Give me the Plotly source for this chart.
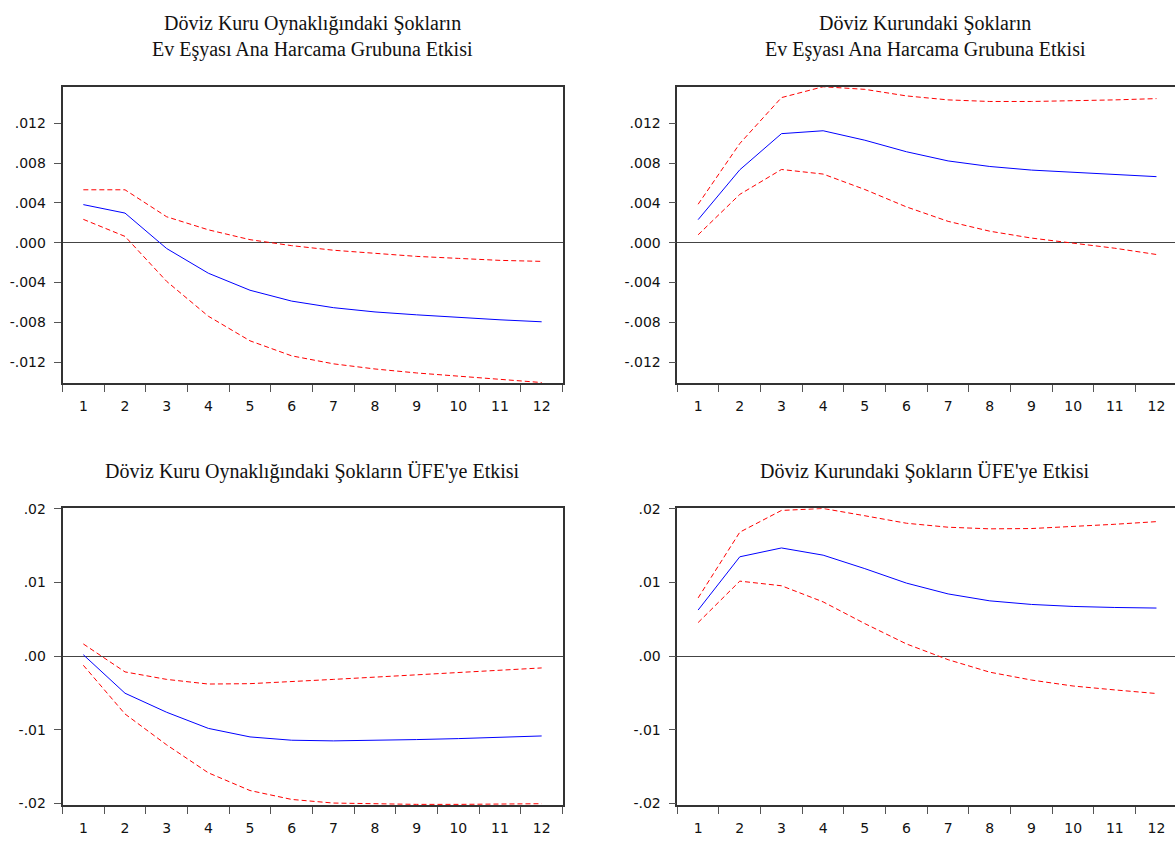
import plotly.graph_objects as go

W, H = 1175, 845

periods = list(range(1, 13))

# Top-left: exchange-rate volatility shock -> household goods
tl_resp = [0.00382, 0.00297, -0.00059, -0.00307, -0.00478, -0.00587, -0.00653, -0.00696, -0.00725, -0.00752, -0.00775, -0.00795]
tl_up = [0.00531, 0.00531, 0.00260, 0.00129, 0.00030, -0.00030, -0.00076, -0.00109, -0.00138, -0.00158, -0.00178, -0.00188]
tl_lo = [0.00234, 0.00063, -0.00389, -0.00739, -0.00986, -0.01137, -0.01217, -0.01269, -0.01309, -0.01342, -0.01372, -0.01405]

# Top-right: exchange-rate shock -> household goods
tr_resp = [0.00231, 0.00732, 0.01095, 0.01124, 0.01029, 0.00913, 0.00821, 0.00765, 0.00729, 0.00706, 0.00686, 0.00663]
tr_up = [0.00386, 0.00996, 0.01457, 0.01566, 0.01540, 0.01474, 0.01434, 0.01418, 0.01418, 0.01424, 0.01434, 0.01447]
tr_lo = [0.00079, 0.00485, 0.00735, 0.00689, 0.00534, 0.00359, 0.00214, 0.00115, 0.00046, -0.00003, -0.00056, -0.00119]

# Bottom-left: exchange-rate volatility shock -> PPI
bl_resp = [0.00018, -0.00505, -0.00764, -0.00983, -0.01099, -0.01144, -0.01153, -0.01149, -0.01135, -0.01122, -0.01104, -0.01086]
bl_up = [0.00165, -0.00215, -0.00317, -0.00380, -0.00375, -0.00349, -0.00317, -0.00286, -0.00255, -0.00223, -0.00192, -0.00161]
bl_lo = [-0.00125, -0.00787, -0.01207, -0.01587, -0.01828, -0.01949, -0.01998, -0.02011, -0.02016, -0.02016, -0.02011, -0.02007]

# Bottom-right: exchange-rate shock -> PPI
br_resp = [0.00626, 0.01350, 0.01470, 0.01372, 0.01189, 0.00992, 0.00845, 0.00751, 0.00702, 0.00675, 0.00661, 0.00653]
br_up = [0.00791, 0.01685, 0.01980, 0.02007, 0.01908, 0.01806, 0.01752, 0.01730, 0.01734, 0.01761, 0.01792, 0.01828]
br_lo = [0.00456, 0.01019, 0.00956, 0.00737, 0.00442, 0.00165, -0.00049, -0.00219, -0.00326, -0.00407, -0.00460, -0.00509]

titles = {
    "tl": ["Döviz Kuru Oynaklığındaki Şokların", "Ev Eşyası Ana Harcama Grubuna Etkisi"],
    "tr": ["Döviz Kurundaki Şokların", "Ev Eşyası Ana Harcama Grubuna Etkisi"],
    "bl": ["Döviz Kuru Oynaklığındaki Şokların ÜFE'ye Etkisi"],
    "br": ["Döviz Kurundaki Şokların ÜFE'ye Etkisi"],
}

top_tickvals = [-0.012, -0.008, -0.004, 0.0, 0.004, 0.008, 0.012]
top_ticktext = ["-.012", "-.008", "-.004", ".000", ".004", ".008", ".012"]
bot_tickvals = [-0.02, -0.01, 0.0, 0.01, 0.02]
bot_ticktext = ["-.02", "-.01", ".00", ".01", ".02"]
top_range = [-0.01411, 0.01566]
bot_range = [-0.02025, 0.02011]


def px_x(a, b):
    return [a / W, min(b / W, 1.0)]


def px_y(top, bottom):
    return [1 - bottom / H, 1 - top / H]


panels = [
    ("tl", tl_resp, tl_up, tl_lo, (62.5, 562.5), (81, 382), top_tickvals, top_ticktext, top_range, True),
    ("tr", tr_resp, tr_up, tr_lo, (677.3, 1177.3), (81, 382), top_tickvals, top_ticktext, top_range, False),
    ("bl", bl_resp, bl_up, bl_lo, (62.5, 562.5), (509, 810.5), bot_tickvals, bot_ticktext, bot_range, True),
    ("br", br_resp, br_up, br_lo, (677.3, 1177.3), (509, 810.5), bot_tickvals, bot_ticktext, bot_range, False),
]

fig = go.Figure()
AX = "#333333"
TICKC = "#555555"
tickfont = dict(family="DejaVu Sans, Arial, sans-serif", size=14, color="#111111")
titlefont = dict(family="Liberation Serif, Times New Roman, serif", size=20, color="#111111")

annotations = []
for i, (key, resp, up, lo, xd, yd, yv, yt, yr, mirror) in enumerate(panels):
    n = "" if i == 0 else str(i + 1)
    xa, ya = "x" + n, "y" + n
    for series, color, dash in ((up, "#ff0000", "5px,3px"), (lo, "#ff0000", "5px,3px"), (resp, "#0000ff", "solid")):
        fig.add_trace(go.Scatter(x=periods, y=series, mode="lines", xaxis=xa, yaxis=ya,
                                 line=dict(color=color, width=1, dash=dash), showlegend=False,
                                 hoverinfo="skip"))
    x0, x1 = xd
    xr_hi = 0.5 + (min(x1, W) - x0) / (x1 - x0) * 12
    fig.layout["xaxis" + n] = dict(
        domain=px_x(x0, x1), anchor=ya, range=[0.5, xr_hi],
        tickmode="array", tickvals=periods, ticktext=[str(p) for p in periods],
        ticks="", showgrid=False, zeroline=False, showline=True, linecolor=AX, linewidth=1.5,
        mirror=True, tickfont=tickfont, ticklabelstandoff=9,
        minor=dict(tickmode="array", tickvals=[p - 0.5 for p in periods] + [12.5], ticks="outside",
                   ticklen=7, tickcolor=TICKC, tickwidth=1, showgrid=False),
        fixedrange=True,
    )
    fig.layout["yaxis" + n] = dict(
        domain=px_y(*yd), anchor=xa, range=yr,
        tickmode="array", tickvals=yv, ticktext=yt,
        ticks="outside", ticklen=7, tickcolor=TICKC, tickwidth=1,
        showgrid=False, zeroline=True, zerolinecolor="#444444", zerolinewidth=1,
        showline=True, linecolor=AX, linewidth=1.5, mirror=mirror,
        tickfont=tickfont, ticklabelstandoff=5, fixedrange=True,
    )
    cx = (x0 + 250) / W if key in ("tl", "bl") else (x0 + 248) / W
    lines = titles[key]
    ys = [17, 43] if key in ("tl", "tr") else [472]
    for txt, yy in zip(lines, ys):
        annotations.append(dict(text=txt, x=cx, y=1 - yy / H, xref="paper", yref="paper",
                                xanchor="center", yanchor="middle", showarrow=False, font=titlefont))

fig.update_layout(
    width=W, height=H, margin=dict(l=0, r=0, t=0, b=0),
    paper_bgcolor="white", plot_bgcolor="white",
    annotations=annotations, showlegend=False,
)

fig.write_html("out.html", config={"displayModeBar": False},
               post_script="document.body.style.margin='0';document.body.style.overflow='hidden';")
